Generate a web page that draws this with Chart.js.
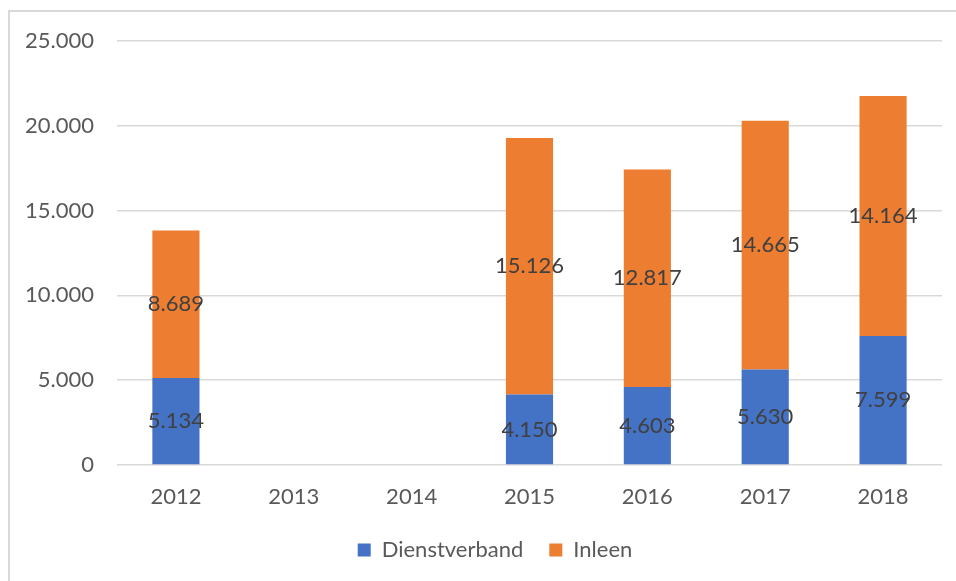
<!DOCTYPE html>
<html>
<head>
<meta charset="utf-8">
<script src="https://cdn.jsdelivr.net/npm/chart.js@4/dist/chart.umd.min.js"></script>
<style>
  html, body { margin: 0; padding: 0; background: #fff; overflow: hidden; }
  #wrap { position: relative; width: 956px; height: 581px; overflow: hidden; }
  #frame { position: absolute; left: 8px; top: 10px; width: 1000px; height: 1000px; border-top: 2px solid #d9d9d9; border-left: 2px solid #d9d9d9; box-sizing: border-box; }
  canvas { position: absolute; left: 0; top: 0; }
</style>
</head>
<body>
<div id="wrap">
  <div id="frame"></div>
  <canvas id="c" width="956" height="581"></canvas>
</div>
<script>
const years = ['2012', '2013', '2014', '2015', '2016', '2017', '2018'];
const dienstverband = [5134, null, null, 4150, 4603, 5630, 7599];
const inleen = [8689, null, null, 15126, 12817, 14665, 14164];
const yTicks = [0, 5000, 10000, 15000, 20000, 25000];

const FONT = 'Lato, "Noto Sans", sans-serif';

function fmt(v) {
  return String(Math.round(v)).replace(/\B(?=(\d{3})+(?!\d))/g, '.');
}

const barLabels = {
  id: 'barLabels',
  afterDatasetsDraw(chart) {
    const ctx = chart.ctx;
    ctx.save();
    ctx.font = '22px ' + FONT;
    ctx.fillStyle = '#404040';
    ctx.textAlign = 'center';
    ctx.textBaseline = 'middle';
    chart.data.datasets.forEach((ds, di) => {
      const meta = chart.getDatasetMeta(di);
      meta.data.forEach((el, i) => {
        const v = ds.data[i];
        if (v == null) return;
        const y = (el.y + el.base) / 2;
        ctx.fillText(fmt(v), el.x, y);
      });
    });
    ctx.restore();
  }
};

// shift the legend so that it is centred like the original
const legendShift = {
  id: 'legendShift',
  afterLayout(chart) {
    if (chart.legend) chart.legend.left += 48;
  }
};

new Chart(document.getElementById('c'), {
  type: 'bar',
  data: {
    labels: years,
    datasets: [
      { label: 'Dienstverband', data: dienstverband, backgroundColor: '#4472C4', barPercentage: 0.4, categoryPercentage: 1 },
      { label: 'Inleen', data: inleen, backgroundColor: '#ED7D31', barPercentage: 0.4, categoryPercentage: 1 }
    ]
  },
  options: {
    responsive: false,
    animation: false,
    devicePixelRatio: 1,
    layout: { padding: { left: 0, right: 14, top: 41, bottom: 10 } },
    plugins: {
      legend: {
        position: 'bottom',
        labels: { font: { family: FONT, size: 22 }, color: '#595959', boxWidth: 13, boxHeight: 13, padding: 26 }
      },
      tooltip: { enabled: false }
    },
    scales: {
      x: {
        stacked: true,
        grid: { display: false },
        border: { display: false },
        ticks: { font: { family: FONT, size: 22 }, color: '#595959', padding: 11, maxRotation: 0 },
        afterFit(s) { s.height = 48; }
      },
      y: {
        stacked: true,
        min: 0, max: 25000,
        afterBuildTicks(s) { s.ticks = yTicks.map(v => ({ value: v })); },
        grid: { color: '#d9d9d9', lineWidth: 1.5, drawTicks: false },
        border: { display: false },
        ticks: { font: { family: FONT, size: 22 }, color: '#595959', padding: 23, callback: v => fmt(v) },
        afterFit(s) { s.width = 117; }
      }
    }
  },
  plugins: [barLabels, legendShift]
});
</script>
</body>
</html>
